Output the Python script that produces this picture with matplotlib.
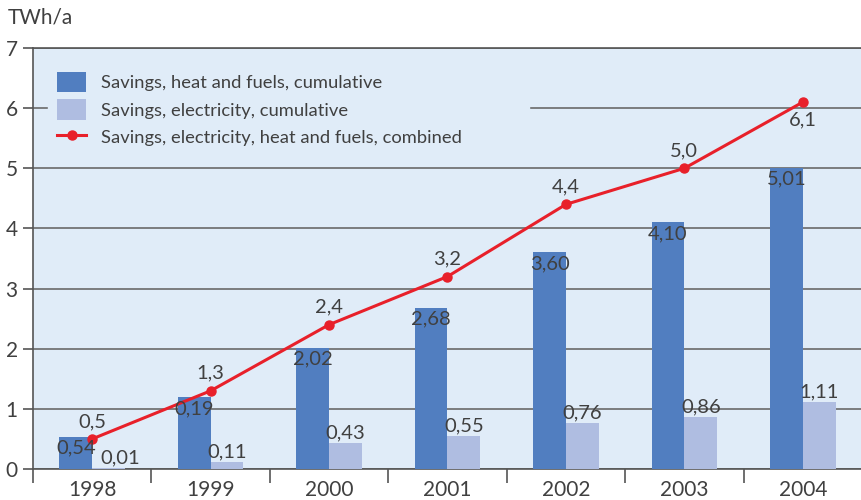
import matplotlib.pyplot as plt
import numpy as np

years = ['1998', '1999', '2000', '2001', '2002', '2003', '2004']
heat = [0.54, 1.19, 2.02, 2.68, 3.60, 4.10, 5.01]
heat_labels = ['0,54', '0,19', '2,02', '2,68', '3,60', '4,10', '5,01']
elec = [0.01, 0.11, 0.43, 0.55, 0.76, 0.86, 1.11]
elec_labels = ['0,01', '0,11', '0,43', '0,55', '0,76', '0,86', '1,11']
combined = [0.5, 1.3, 2.4, 3.2, 4.4, 5.0, 6.1]
combined_labels = ['0,5', '1,3', '2,4', '3,2', '4,4', '5,0', '6,1']

plt.rcParams['font.family'] = ['Lato', 'DejaVu Sans']
txt = '#404040'
bg = '#e0ecf8'

fig = plt.figure(figsize=(8.62, 5.0), dpi=100)
ax = fig.add_axes([33 / 862, 31 / 500, 829 / 862, 421 / 500])
ax.set_facecolor(bg)

x = np.arange(len(years))
w = 0.277
b1 = ax.bar(x - w / 2, heat, w, color='#517ec0', zorder=3)
b2 = ax.bar(x + w / 2, elec, w, color='#afbde1', zorder=3)
ln, = ax.plot(x, combined, color='#e8202a', lw=2.2, marker='o', ms=6.5, zorder=4)

fs = 14.5
for i in range(len(years)):
    ax.text(x[i] - w / 2, heat[i] - 0.05, heat_labels[i], ha='center', va='top',
            fontsize=fs, color=txt, zorder=5)
    # tiny bars get their label nudged right so it clears the line marker
    dx = 0.1 if elec[i] < 0.05 else 0
    ax.text(x[i] + w / 2 + dx, elec[i] + 0.03, elec_labels[i], ha='center', va='bottom',
            fontsize=fs, color=txt, zorder=5)
    if i == len(years) - 1:
        ax.text(x[i], combined[i] - 0.15, combined_labels[i], ha='center', va='top',
                fontsize=fs, color=txt, zorder=5)
    else:
        ax.text(x[i], combined[i] + 0.15, combined_labels[i], ha='center', va='bottom',
                fontsize=fs, color=txt, zorder=5)

ax.set_xlim(-0.5, 6.47)
ax.set_ylim(0, 7)
ax.set_yticks(range(8))
ax.grid(axis='y', color='#6a6a6a', lw=1.2, zorder=1)
ax.set_axisbelow(True)

ax.set_xticks(x)
ax.set_xticklabels(years)
ax.set_xticks(np.arange(-0.5, 7, 1), minor=True)
ax.tick_params(axis='x', which='major', length=0, pad=8, labelsize=15, labelcolor=txt)
ax.tick_params(axis='x', which='minor', length=10, width=1.2, color='#555555', direction='out')
ax.tick_params(axis='y', length=7, width=1.2, color='#555555', labelsize=15, labelcolor=txt, pad=4)

for s in ['left', 'bottom', 'top']:
    ax.spines[s].set_color('#555555')
    ax.spines[s].set_linewidth(1.2)
ax.spines['right'].set_visible(False)

leg = ax.legend([b1, b2, ln],
                ['Savings, heat and fuels, cumulative',
                 'Savings, electricity, cumulative',
                 'Savings, electricity, heat and fuels, combined'],
                loc='upper left', bbox_to_anchor=(0.018, 0.7, 0.58, 0.265), mode='expand',
                frameon=True, fontsize=13.2,
                handlelength=1.6, handleheight=1.35, labelspacing=0.38, borderpad=0.5,
                borderaxespad=0, handletextpad=0.8)
leg.get_frame().set_facecolor(bg)
leg.get_frame().set_edgecolor(bg)
leg.get_frame().set_alpha(1)
for t in leg.get_texts():
    t.set_color(txt)
leg.set_zorder(6)

fig.text(8 / 862, 1 - 18 / 500, 'TWh/a', fontsize=15, color=txt, va='center', ha='left')

fig.savefig('out.png', dpi=100)
